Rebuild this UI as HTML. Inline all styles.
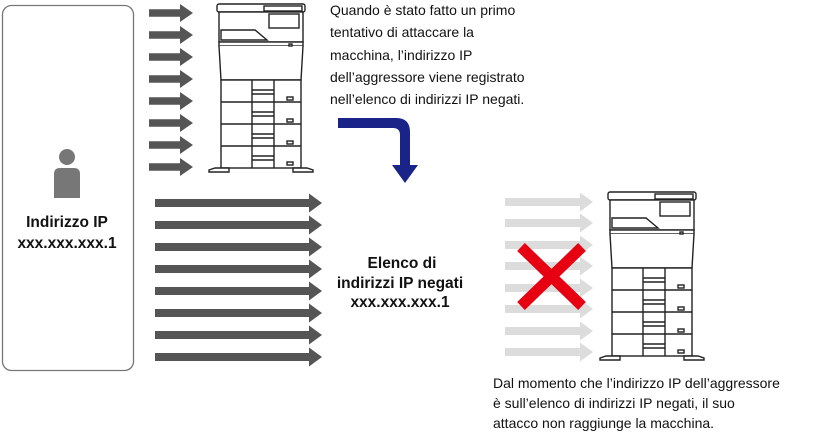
<!DOCTYPE html>
<html><head><meta charset="utf-8"><style>
body{margin:0;background:#fff}
svg{display:block}
text{font-family:"Liberation Sans",sans-serif;fill:#111}
</style></head><body>
<svg width="815" height="433" viewBox="0 0 815 433" xmlns="http://www.w3.org/2000/svg">
<defs>
<g id="arr1"><path d="M0,-3.8 H31 V-9 L44,0 L31,9 V3.8 H0 Z"/></g>
<g id="arr2"><path d="M0,-4 H154 V-9.5 L167,0 L154,9.5 V4 H0 Z"/></g>
<g id="arr3"><path d="M0,-4 H75 V-9.5 L88,0 L75,9.5 V4 H0 Z"/></g>
<g id="printer" fill="#fff" stroke="#222" stroke-width="1.4">
  <rect x="10" y="2" width="88" height="8" rx="2"/>
  <rect x="12" y="10" width="84" height="30"/>
  <path d="M14,28 H48 L60,38 H14 Z" fill="none"/>
  <rect x="57" y="4" width="38" height="5"/>
  <rect x="62" y="12" width="30" height="14" fill="none"/>
  <rect x="12" y="40" width="84" height="4"/>
  <path d="M12,44 L14,78 H94 L96,44"/>
  <rect x="14" y="78" width="80" height="88"/>
  <line x1="14" y1="100" x2="94" y2="100"/>
  <line x1="14" y1="122" x2="94" y2="122"/>
  <line x1="14" y1="144" x2="94" y2="144"/>
  <line x1="45" y1="78" x2="45" y2="166"/>
  <line x1="67" y1="78" x2="67" y2="166"/>
  <line x1="45" y1="88" x2="67" y2="88"/><line x1="45" y1="92" x2="67" y2="92"/>
  <line x1="45" y1="110" x2="67" y2="110"/><line x1="45" y1="114" x2="67" y2="114"/>
  <line x1="45" y1="132" x2="67" y2="132"/><line x1="45" y1="136" x2="67" y2="136"/>
  <line x1="45" y1="154" x2="67" y2="154"/><line x1="45" y1="158" x2="67" y2="158"/>
  <rect x="80" y="95" width="6" height="3"/><rect x="80" y="117" width="6" height="3"/>
  <rect x="80" y="139" width="6" height="3"/><rect x="80" y="160" width="6" height="3"/>
  <rect x="82" y="42" width="3" height="2"/>
  <path d="M2,168 L8,166 H22 V170 H2 Z"/><path d="M86,166 H100 L106,168 V170 H86 Z"/>
</g>
</defs>
<rect x="2.5" y="5.5" width="131" height="365" rx="9" fill="#fff" stroke="#777" stroke-width="1.3"/>
<circle cx="67" cy="157" r="8" fill="#777"/>
<path d="M54,198 V174 Q54,168 60,168 H74 Q80,168 80,174 V198 Z" fill="#777"/>
<text x="67" y="227" font-size="15.5" font-weight="bold" text-anchor="middle">Indirizzo IP</text>
<text x="67" y="248" font-size="15.5" font-weight="bold" text-anchor="middle">xxx.xxx.xxx.1</text>
<g fill="#555">
<use href="#arr1" x="149" y="13"/><use href="#arr1" x="149" y="35"/><use href="#arr1" x="149" y="57"/><use href="#arr1" x="149" y="79"/>
<use href="#arr1" x="149" y="101"/><use href="#arr1" x="149" y="123"/><use href="#arr1" x="149" y="145"/><use href="#arr1" x="149" y="167"/>
<use href="#arr2" x="155" y="203"/><use href="#arr2" x="155" y="225"/><use href="#arr2" x="155" y="247"/><use href="#arr2" x="155" y="269"/>
<use href="#arr2" x="155" y="291"/><use href="#arr2" x="155" y="313"/><use href="#arr2" x="155" y="335"/><use href="#arr2" x="155" y="357"/>
</g>
<g fill="#dcdcdc">
<use href="#arr3" x="505" y="202"/><use href="#arr3" x="505" y="223"/><use href="#arr3" x="505" y="245"/><use href="#arr3" x="505" y="266"/>
<use href="#arr3" x="505" y="288"/><use href="#arr3" x="505" y="309"/><use href="#arr3" x="505" y="331"/><use href="#arr3" x="505" y="352"/>
</g>
<use href="#printer" x="207" y="2"/>
<use href="#printer" x="598" y="190"/>
<path d="M521,247 L582,306 M582,247 L521,306" stroke="#e60012" stroke-width="11"/>
<path d="M338,118 H396 Q410,118 410,132 V165 H418 L405,183 L392,165 H400 V135 Q400,128 393,128 H338 Z" fill="#1a2388"/>
<g font-size="14">
<text x="330" y="15">Quando è stato fatto un primo</text>
<text x="330" y="37">tentativo di attaccare la</text>
<text x="330" y="60">macchina, l’indirizzo IP</text>
<text x="330" y="82">dell’aggressore viene registrato</text>
<text x="330" y="104">nell’elenco di indirizzi IP negati.</text>
<text x="493" y="388">Dal momento che l’indirizzo IP dell’aggressore</text>
<text x="493" y="408">è sull’elenco di indirizzi IP negati, il suo</text>
<text x="493" y="428">attacco non raggiunge la macchina.</text>
</g>
<g font-size="15.5" font-weight="bold" text-anchor="middle">
<text x="402" y="268">Elenco di</text>
<text x="400" y="288">indirizzi IP negati</text>
<text x="400" y="307">xxx.xxx.xxx.1</text>
</g>
</svg>
</body></html>
